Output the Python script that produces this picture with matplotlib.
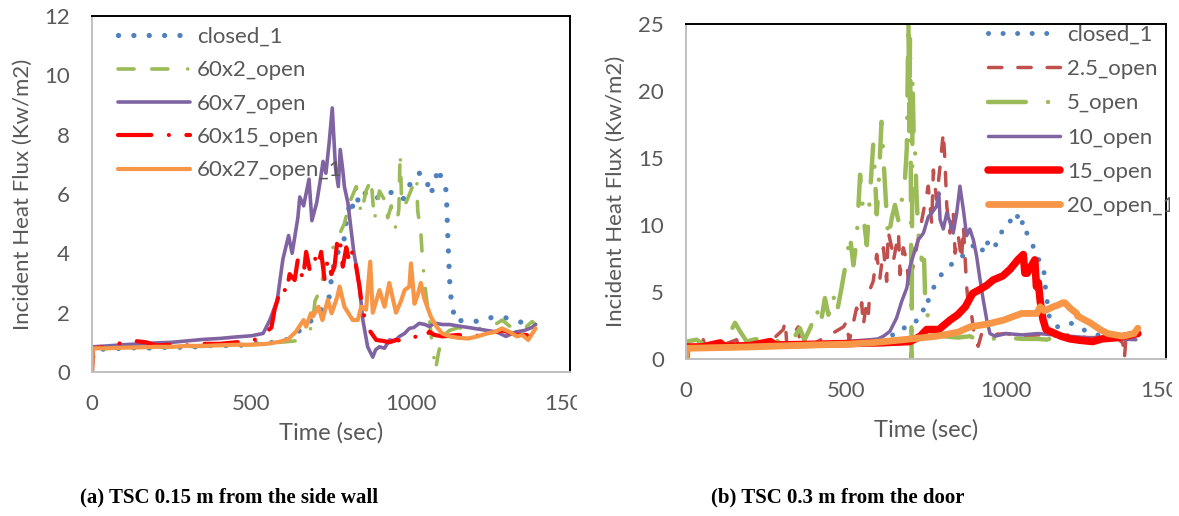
import matplotlib
matplotlib.use("Agg")
import matplotlib.pyplot as plt
from matplotlib.transforms import Bbox, TransformedBbox

plt.rcParams['font.family'] = ['Lato', 'DejaVu Sans']

# ---- data: (time sec, heat flux kW/m2) ----
# (a) TSC 0.15 m from the side wall
a_closed_1 = [(0, 0), (2, 0.5), (10, 0.75), (50, 0.78), (100, 0.8), (150, 0.82), (200, 0.8), (250, 0.85),
              (300, 0.82), (350, 0.88), (400, 0.9), (450, 0.88), (500, 0.95), (550, 0.98), (600, 1.02),
              (640, 1.3), (660, 1.47), (690, 1.75), (720, 2.1), (743, 2.43), (748, 2.9), (763, 3.9),
              (790, 4.3), (793, 4.8), (811, 5.8), (822, 5.45), (846, 6.13), (870, 5.9), (887, 5.8),
              (910, 6.0), (934, 6.08), (961, 5.9), (975, 5.8), (989, 6.08), (1004, 6.5), (1028, 6.7),
              (1046, 6.6), (1063, 5.97), (1075, 6.4), (1087, 6.87), (1099, 6.4), (1110, 6.2), (1113, 5.7),
              (1116, 4.7), (1120, 3.66), (1124, 2.7), (1131, 2.2), (1140, 1.7), (1169, 1.75), (1216, 1.7),
              (1263, 1.87), (1310, 1.81), (1357, 1.64), (1390, 1.58)]
a_60x2 = [(0, 0), (3, 0.75), (50, 0.8), (100, 0.82), (200, 0.85), (300, 0.85), (400, 0.88), (500, 0.92),
          (589, 1.0), (640, 1.05), (660, 1.2), (690, 1.5), (700, 2.4), (711, 2.65), (725, 3.2), (734, 4.0),
          (752, 4.1), (770, 4.5), (792, 5.0), (808, 5.7), (829, 6.25), (845, 5.35), (860, 6.1), (876, 6.5),
          (886, 5.1), (902, 6.1), (918, 5.8), (928, 5.2), (939, 5.6), (954, 4.8), (963, 5.5), (967, 7.4),
          (972, 5.6), (985, 5.7), (1006, 6.25), (1019, 6.6), (1022, 5.45), (1032, 4.67), (1038, 3.66),
          (1048, 2.6), (1059, 1.75), (1068, 0.9), (1078, 0.07), (1087, 0.63), (1099, 1.2), (1122, 1.4),
          (1150, 1.5), (1181, 1.4), (1210, 1.45), (1240, 1.53), (1265, 1.6), (1287, 1.75), (1310, 1.55),
          (1334, 1.6), (1360, 1.5), (1381, 1.7), (1392, 1.6)]
a_60x7 = [(0, 0), (3, 0.85), (50, 0.88), (100, 0.92), (150, 0.95), (200, 0.98), (250, 1.0), (300, 1.05),
          (350, 1.1), (400, 1.13), (450, 1.18), (500, 1.22), (537, 1.3), (558, 1.75), (581, 2.4), (599, 3.8),
          (617, 4.6), (628, 4.0), (646, 5.2), (652, 5.9), (664, 5.6), (681, 6.5), (690, 5.1), (705, 5.7),
          (717, 6.5), (725, 7.1), (734, 6.7), (744, 7.7), (754, 8.9), (764, 6.9), (773, 6.25), (779, 7.5),
          (787, 6.8), (792, 6.25), (803, 5.7), (813, 4.8), (822, 4.0), (829, 3.6), (839, 2.9), (850, 1.75),
          (865, 0.85), (881, 0.5), (890, 0.75), (902, 0.85), (918, 0.8), (933, 1.08), (950, 1.05),
          (965, 1.2), (981, 1.3), (996, 1.47), (1010, 1.5), (1027, 1.64), (1045, 1.6), (1059, 1.53),
          (1075, 1.65), (1100, 1.6), (1122, 1.6), (1150, 1.55), (1181, 1.5), (1210, 1.45), (1240, 1.4),
          (1270, 1.35), (1299, 1.2), (1330, 1.35), (1357, 1.4), (1380, 1.5), (1392, 1.6)]
a_60x15 = [(0, 0), (3, 0.8), (50, 0.85), (98, 1.0), (130, 1.05), (171, 1.0), (200, 0.9), (250, 0.92),
           (300, 0.9), (350, 0.95), (400, 0.95), (450, 1.0), (505, 1.05), (542, 1.3), (563, 1.5), (573, 2.1),
           (584, 2.5), (599, 2.9), (610, 2.65), (620, 3.3), (636, 3.1), (646, 3.8), (662, 3.1), (672, 4.05),
           (683, 3.45), (698, 3.9), (709, 3.55), (719, 4.05), (730, 3.1), (740, 3.8), (751, 3.3),
           (761, 3.55), (771, 4.55), (777, 4.56), (787, 3.55), (798, 4.2), (808, 3.66), (818, 4.1),
           (829, 3.55), (839, 2.9), (845, 2.4), (855, 1.85), (871, 1.4), (892, 1.08), (912, 1.05),
           (933, 1.0), (954, 1.08), (975, 1.05), (996, 1.08), (1017, 1.2), (1038, 1.08), (1059, 1.36),
           (1074, 1.25), (1100, 1.2), (1150, 1.25), (1200, 1.2), (1240, 1.3), (1290, 1.4), (1330, 1.25),
           (1360, 1.25), (1392, 1.2)]
a_60x27 = [(0, 0), (3, 0.8), (50, 0.8), (100, 0.82), (150, 0.83), (200, 0.85), (250, 0.85), (300, 0.88),
           (350, 0.88), (400, 0.9), (450, 0.92), (500, 0.92), (550, 0.95), (589, 1.02), (615, 1.1),
           (640, 1.36), (664, 1.75), (672, 1.53), (687, 1.98), (693, 1.87), (711, 2.2), (723, 1.75),
           (740, 2.43), (752, 1.98), (770, 2.54), (777, 2.88), (792, 2.2), (805, 1.98), (818, 1.75),
           (834, 1.75), (845, 2.2), (860, 2.1), (873, 3.72), (881, 2.0), (902, 2.76), (918, 2.2),
           (933, 3.0), (954, 2.0), (970, 2.4), (981, 2.76), (996, 2.88), (1001, 3.66), (1012, 2.3),
           (1022, 2.6), (1032, 3.0), (1042, 2.5), (1052, 2.2), (1063, 1.87), (1081, 1.53), (1099, 1.3),
           (1122, 1.2), (1150, 1.15), (1181, 1.13), (1210, 1.2), (1240, 1.3), (1265, 1.35), (1287, 1.47),
           (1310, 1.35), (1334, 1.2), (1350, 1.25), (1369, 1.08), (1392, 1.47)]

# (b) TSC 0.3 m from the door
b_closed_1 = [(0, 0), (2, 0.8), (50, 0.85), (100, 0.9), (200, 0.95), (300, 1.0), (400, 1.05), (500, 1.15),
              (550, 1.2), (600, 1.3), (630, 1.6), (658, 1.94), (669, 1.94), (695, 2.7), (731, 2.9),
              (747, 4.05), (752, 3.9), (763, 4.9), (778, 5.5), (794, 6.2), (815, 6.7), (835, 7.2),
              (856, 7.4), (870, 7.9), (887, 8.2), (908, 8.7), (934, 7.9), (945, 8.9), (966, 8.4),
              (981, 9.4), (1002, 9.7), (1023, 10.8), (1033, 10.9), (1044, 9.9), (1054, 10.3), (1065, 9.4),
              (1085, 8.4), (1096, 7.7), (1107, 7.2), (1117, 6.9), (1121, 5.9), (1125, 4.9), (1137, 2.9),
              (1160, 2.4), (1201, 2.7), (1230, 2.3), (1271, 1.9), (1300, 1.7), (1342, 1.44), (1370, 1.5),
              (1405, 1.5)]
b_2_5 = [(0, 0), (2, 0.8), (54, 1.44), (60, 0.9), (100, 0.9), (158, 1.44), (165, 0.95), (250, 1.0),
         (304, 2.2), (310, 2.8), (315, 1.1), (351, 2.4), (356, 1.1), (400, 1.15), (471, 2.1), (492, 2.4),
         (502, 2.8), (510, 1.3), (533, 3.8), (544, 3.3), (549, 4.2), (554, 2.5), (565, 4.3), (570, 3.4),
         (575, 5.2), (585, 5.8), (596, 7.8), (606, 6.0), (617, 8.3), (627, 5.8), (632, 9.5), (643, 8.3),
         (648, 7.3), (664, 9.4), (669, 6.3), (679, 8.3), (690, 7.3), (697, 5.2), (710, 7.0), (730, 9.5),
         (757, 12.9), (768, 10.1), (773, 14.1), (783, 11.9), (794, 14.4), (804, 16.9), (809, 14.9),
         (815, 11.4), (825, 9.4), (835, 11.1), (841, 7.9), (851, 9.2), (861, 7.4), (867, 9.9), (877, 5.4),
         (882, 4.2), (893, 3.2), (903, 1.44), (913, 0.95), (924, 1.9), (950, 1.8), (1000, 1.9),
         (1050, 1.7), (1100, 1.8), (1150, 1.7), (1200, 1.8), (1250, 1.6), (1300, 1.6), (1350, 1.5),
         (1365, 1.2), (1370, 0.05), (1375, 1.6), (1412, 1.9)]
b_5 = [(0, 0), (2, 1.3), (33, 1.44), (60, 1.0), (96, 1.7), (120, 1.1), (153, 2.7), (169, 2.06), (190, 1.3),
       (210, 1.44), (252, 1.6), (273, 1.57), (294, 1.2), (330, 1.3), (356, 2.3), (370, 1.4), (388, 2.3),
       (398, 2.9), (408, 3.8), (420, 2.5), (434, 4.55), (445, 3.3), (460, 4.8), (471, 3.4), (486, 5.3),
       (497, 6.8), (507, 8.3), (512, 9.3), (523, 7.0), (533, 8.8), (544, 13.75), (554, 10.8), (565, 8.5),
       (575, 12.3), (585, 16.0), (591, 13.5), (596, 10.8), (601, 12.5), (611, 17.7), (617, 15.0),
       (627, 10.8), (632, 9.0), (643, 10.5), (653, 11.5), (664, 10.3), (674, 11.8), (684, 13.3),
       (690, 15.7), (695, 25.5), (698, 17.0), (700, 24.0), (703, 12.0), (705, 0.0), (708, 21.0),
       (712, 16.0), (716, 15.4), (721, 11.9), (726, 9.4), (737, 7.4), (744, 7.4), (747, 4.9), (757, 2.9),
       (768, 1.9), (800, 1.7), (850, 1.6), (888, 1.7), (908, 1.44), (950, 1.5), (1000, 1.6), (1050, 1.5),
       (1100, 1.5), (1127, 1.44), (1135, 1.5)]
b_10 = [(0, 0), (2, 0.85), (100, 0.9), (200, 1.0), (300, 1.05), (400, 1.15), (500, 1.3), (575, 1.44),
        (600, 1.5), (617, 1.7), (637, 2.06), (658, 3.06), (674, 4.3), (690, 5.3), (700, 6.9), (710, 7.7),
        (726, 8.9), (742, 9.4), (757, 10.6), (768, 10.9), (783, 11.4), (790, 12.4), (794, 10.4),
        (804, 9.7), (815, 10.9), (825, 10.2), (835, 9.4), (846, 10.9), (856, 12.9), (867, 11.1),
        (877, 9.2), (887, 9.7), (898, 8.9), (908, 7.7), (919, 5.9), (929, 4.4), (940, 2.9), (950, 1.9),
        (966, 1.7), (1000, 1.9), (1050, 1.8), (1100, 1.9), (1150, 1.8), (1200, 1.7), (1250, 1.6),
        (1300, 1.5), (1350, 1.5), (1406, 1.44)]
b_15 = [(0, 0), (2, 0.9), (50, 0.9), (106, 1.2), (120, 0.95), (200, 1.0), (263, 1.3), (280, 1.05),
        (400, 1.1), (500, 1.15), (600, 1.2), (650, 1.25), (700, 1.3), (732, 1.7), (752, 2.2), (790, 2.2),
        (825, 2.9), (849, 3.3), (873, 3.9), (896, 4.9), (919, 5.2), (940, 5.5), (960, 5.9), (990, 6.2),
        (1013, 6.7), (1037, 7.4), (1054, 7.8), (1059, 6.4), (1066, 6.4), (1078, 6.9), (1090, 7.4),
        (1095, 5.4), (1101, 5.7), (1107, 4.3), (1115, 3.0), (1125, 2.2), (1172, 1.7), (1200, 1.5),
        (1230, 1.4), (1271, 1.3), (1300, 1.5), (1350, 1.6), (1412, 1.9)]
b_20 = [(0, 0), (2, 0.8), (100, 0.85), (200, 0.9), (263, 0.95), (400, 1.05), (500, 1.1), (575, 1.2),
        (679, 1.44), (783, 1.7), (850, 2.0), (888, 2.4), (940, 2.6), (992, 2.9), (1049, 3.4), (1096, 3.4),
        (1107, 3.9), (1120, 3.6), (1148, 3.9), (1160, 4.0), (1178, 4.2), (1184, 4.2), (1200, 3.8),
        (1221, 3.4), (1224, 3.2), (1263, 2.7), (1294, 2.2), (1318, 1.9), (1365, 1.7), (1400, 1.9),
        (1412, 2.3)]

labels_a = ["closed_1", "60x2_open", "60x7_open", "60x15_open", "60x27_open_1"]
labels_b = ["closed_1", "2.5_open", "5_open", "10_open", "15_open", "20_open_1"]

# Excel 2010 palette
blue, red_d, green, purple, red, orange = "#4F81BD", "#C0504D", "#9BBB59", "#8064A2", "#FF0000", "#F79646"
grey_txt = "#595959"
FS = 16

dots = (0, (0.01, 2.9))
styles_a = [
    dict(color=blue, lw=3.8, ls=dots, dash_capstyle="round"),
    dict(color=green, lw=2.6, ls=(0, (4.45, 4.9, 4.45, 5.5, 0.01, 4.9)), dash_capstyle="round"),
    dict(color=purple, lw=2.6, solid_capstyle="round"),
    dict(color=red, lw=3.0, ls=(0, (8.0, 4.2, 0.01, 4.2)), dash_capstyle="round"),
    dict(color=orange, lw=3.0, solid_capstyle="round"),
]
styles_b = [
    dict(color=blue, lw=3.6, ls=dots, dash_capstyle="round"),
    dict(color=red_d, lw=2.5, ls=(0, (3.85, 4.6)), dash_capstyle="round"),
    dict(color=green, lw=3.2, ls=(0, (8.5, 5.0, 0.01, 5.0)), dash_capstyle="round"),
    dict(color=purple, lw=2.5, solid_capstyle="round"),
    dict(color=red, lw=5.4, solid_capstyle="round"),
    dict(color=orange, lw=4.9, solid_capstyle="round"),
]

W, H = 1179, 516
fig = plt.figure(figsize=(W / 100, H / 100), dpi=100)


def frac_box(x0, y0, x1, y1):
    # pixel box (top-left origin) -> figure fraction [l, b, w, h]
    return [x0 / W, 1 - y1 / H, (x1 - x0) / W, (y1 - y0) / H]


def clip_to(x_px):
    return TransformedBbox(Bbox([[0, 0], [x_px / W, 1]]), fig.transFigure)


def setup(ax, ymax, ystep, clip_x):
    ax.set_xlim(0, 1500)
    ax.set_ylim(0, ymax)
    ax.set_xticks([0, 500, 1000, 1500])
    ax.set_yticks(range(0, ymax + 1, ystep))
    ax.tick_params(length=0, labelsize=FS, labelcolor=grey_txt, pad=16)
    for s in ["top", "right"]:
        ax.spines[s].set_color("black")
        ax.spines[s].set_linewidth(1.4)
    for s in ["left", "bottom"]:
        ax.spines[s].set_color("#BFBFBF")
        ax.spines[s].set_linewidth(1.4)
    ax.set_xlabel("Time (sec)", fontsize=FS + 1, color=grey_txt, va="center")
    ax.set_ylabel("Incident Heat Flux (Kw/m2)", fontsize=FS, color=grey_txt, va="center")
    lab = ax.get_xticklabels()[-1]
    lab.set_clip_on(True)
    lab.set_clip_box(clip_to(clip_x))


def draw(ax, series, styles, labels):
    for data, st, lab in zip(series, styles, labels):
        t = [p[0] for p in data]
        v = [p[1] for p in data]
        ax.plot(t, v, label=lab, solid_joinstyle="round", **st)


# ---- panel (a) ----
ax1 = fig.add_axes(frac_box(92, 16, 570, 372))
draw(ax1, [a_closed_1, a_60x2, a_60x7, a_60x15, a_60x27], styles_a, labels_a)
setup(ax1, 12, 2, 577)
ax1.xaxis.set_label_coords(0.5, -0.171)
ax1.yaxis.set_label_coords(-0.145, 0.5)
ax1.legend(loc="upper left", bbox_to_anchor=(118 / W, 1 - 27 / H), bbox_transform=fig.transFigure,
           frameon=False, fontsize=FS, labelcolor=grey_txt, handlelength=3.25, handletextpad=0.3,
           labelspacing=0.6, borderpad=0, borderaxespad=0)

# ---- panel (b) ----
ax2 = fig.add_axes(frac_box(686, 24, 1166, 359))
draw(ax2, [b_closed_1, b_2_5, b_5, b_10, b_15, b_20], styles_b, labels_b)
setup(ax2, 25, 5, 1172)
ax2.xaxis.set_label_coords(0.5, -0.212)
ax2.yaxis.set_label_coords(-0.146, 0.5)
leg2 = ax2.legend(loc="upper left", bbox_to_anchor=(988 / W, 1 - 25 / H), bbox_transform=fig.transFigure,
                  frameon=False, fontsize=FS, labelcolor=grey_txt, handlelength=3.25, handletextpad=0.3,
                  labelspacing=0.64, borderpad=0, borderaxespad=0)
for txt in leg2.get_texts():
    txt.set_clip_on(True)
    txt.set_clip_box(clip_to(1170))

# ---- captions ----
fig.text(80 / W, 1 - 497 / H, "(a) TSC 0.15 m from the side wall", ha="left", va="center",
         fontsize=15, fontweight="bold", family="Liberation Serif")
fig.text(711 / W, 1 - 497 / H, "(b) TSC 0.3 m from the door", ha="left", va="center",
         fontsize=15, fontweight="bold", family="Liberation Serif")

fig.savefig("out.png", dpi=100)
plt.close(fig)
